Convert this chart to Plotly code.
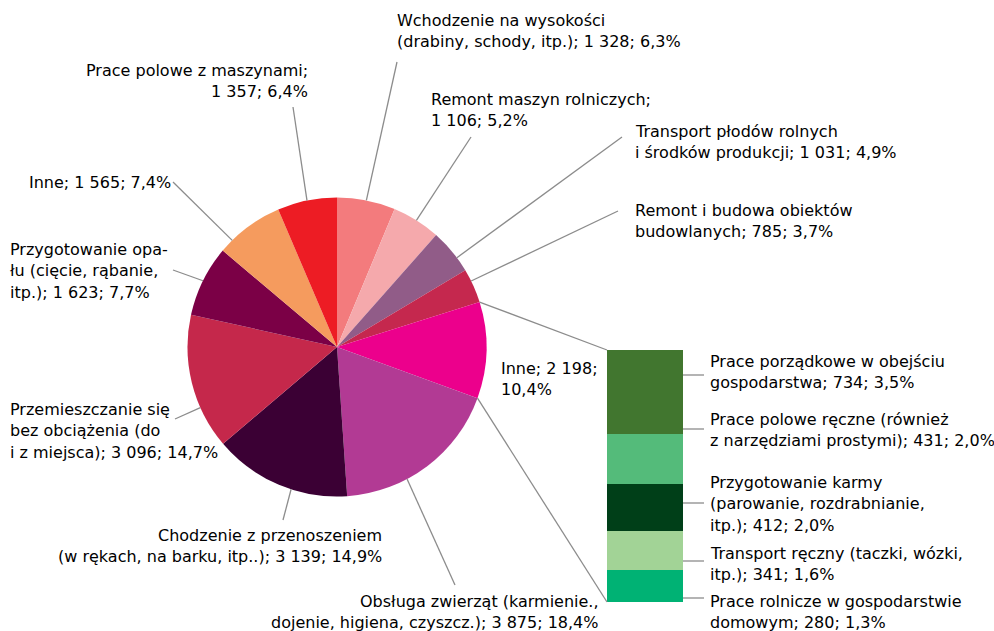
import math
import plotly.graph_objects as go

# --- data -------------------------------------------------------------
pie_labels = [
    "Wchodzenie na wysokości (drabiny, schody, itp.)",
    "Remont maszyn rolniczych",
    "Transport płodów rolnych i środków produkcji",
    "Remont i budowa obiektów budowlanych",
    "Inne",
    "Obsługa zwierząt (karmienie., dojenie, higiena, czyszcz.)",
    "Chodzenie z przenoszeniem (w rękach, na barku, itp..)",
    "Przemieszczanie się bez obciążenia (do i z miejsca)",
    "Przygotowanie opału (cięcie, rąbanie, itp.)",
    "Inne",
    "Prace polowe z maszynami",
]
pie_values = [1328, 1106, 1031, 785, 2198, 3875, 3139, 3096, 1623, 1565, 1357]
pie_pct = ["6,3%", "5,2%", "4,9%", "3,7%", "10,4%", "18,4%", "14,9%", "14,7%", "7,7%", "7,4%", "6,4%"]
pie_text = [
    ["Wchodzenie na wysokości", "(drabiny, schody, itp.); 1 328; 6,3%"],
    ["Remont maszyn rolniczych;", "1 106; 5,2%"],
    ["Transport płodów rolnych", "i środków produkcji; 1 031; 4,9%"],
    ["Remont i budowa obiektów", "budowlanych; 785; 3,7%"],
    ["Inne; 2 198;", "10,4%"],
    ["Obsługa zwierząt (karmienie.,", "dojenie, higiena, czyszcz.); 3 875; 18,4%"],
    ["Chodzenie z przenoszeniem", "(w rękach, na barku, itp..); 3 139; 14,9%"],
    ["Przemieszczanie się", "bez obciążenia (do", "i z miejsca); 3 096; 14,7%"],
    ["Przygotowanie opa-", "łu (cięcie, rąbanie,", "itp.); 1 623; 7,7%"],
    ["Inne; 1 565; 7,4%"],
    ["Prace polowe z maszynami;", "1 357; 6,4%"],
]

bar_values = [734, 431, 412, 341, 280]
bar_text = [
    ["Prace porządkowe w obejściu", "gospodarstwa; 734; 3,5%"],
    ["Prace polowe ręczne (również", "z narzędziami prostymi); 431; 2,0%"],
    ["Przygotowanie karmy", "(parowanie, rozdrabnianie,", "itp.); 412; 2,0%"],
    ["Transport ręczny (taczki, wózki,", "itp.); 341; 1,6%"],
    ["Prace rolnicze w gospodarstwie", "domowym; 280; 1,3%"],
]

# --- style ------------------------------------------------------------
PIE_COLORS = ['#F37B7D', '#F5A9AC', '#915C88', '#C5284E', '#EC008C', '#B23A94',
              '#3B0034', '#C5284B', '#7B0046', '#F59B5E', '#ED1C24']
BAR_COLORS = ['#41762F', '#54BB7A', '#003F18', '#A2D396', '#00B274']
LINE_COLOR = '#8C8C8C'
FONT = dict(family="DejaVu Sans", size=16, color='black')
W, H = 994, 631
CX, CY, R = 337, 347, 149.5
BAR_X0, BAR_X1, BAR_Y0, BAR_Y1 = 607, 683, 350, 602
LINE_H = 21.5

# label placement: (anchor x, first line y, xanchor, leader end or None, angle offset)
PIE_LABEL_POS = [
    (395, 20, 'left', (397, 62), 0),
    (429, 99, 'left', (471, 137), 0),
    (633, 131, 'left', (622, 137), 3),
    (633, 210, 'left', (618, 211), -2),
    (499, 368, 'left', None, 0),
    (601, 601, 'right', (455, 585), 9),
    (384, 535, 'right', (283, 520), -5),
    (8, 409, 'left', (175, 419), -10),
    (8, 249, 'left', (173, 270), 0),
    (27, 182, 'left', (173, 182), -8),
    (310, 70, 'right', (293, 107), 0),
]
BAR_LABEL_POS = [(708, 361, 375), (708, 419, 429), (708, 482, 503), (708, 553, 561), (708, 601, 598)]

fig = go.Figure()

# pie
fig.add_trace(go.Pie(
    labels=[f"{i}" for i in range(len(pie_values))],
    values=pie_values,
    sort=False,
    direction='clockwise',
    rotation=0,
    marker=dict(colors=PIE_COLORS, line=dict(width=0)),
    textinfo='none',
    hoverinfo='skip',
    showlegend=False,
    domain=dict(x=[(CX - R) / W, (CX + R) / W], y=[1 - (CY + R) / H, 1 - (CY - R) / H]),
))

# stacked bar (bottom segment first)
for val, col in zip(bar_values[::-1], BAR_COLORS[::-1]):
    fig.add_trace(go.Bar(
        x=[0], y=[val], width=1, marker=dict(color=col, line=dict(width=0)),
        xaxis='x2', yaxis='y2', showlegend=False, hoverinfo='skip',
    ))

total = sum(pie_values)


def edge_point(angle_deg, r=R):
    a = math.radians(angle_deg)
    return CX + r * math.sin(a), CY - r * math.cos(a)


shapes = []
annotations = []


def add_line(x0, y0, x1, y1):
    shapes.append(dict(type='line', xref='x', yref='y', x0=x0, y0=y0, x1=x1, y1=y1,
                       line=dict(color=LINE_COLOR, width=1.3)))


def add_text(lines, x, y, xanchor):
    for i, t in enumerate(lines):
        annotations.append(dict(x=x, y=y + i * LINE_H, xref='x', yref='y', text=t,
                                showarrow=False, xanchor=xanchor, yanchor='middle',
                                font=FONT))


cum = 0
for i, v in enumerate(pie_values):
    start = cum / total * 360
    cum += v
    end = cum / total * 360
    x, y, anchor, lead, off = PIE_LABEL_POS[i]
    add_text(pie_text[i], x, y, anchor)
    if lead is not None:
        sx, sy = edge_point((start + end) / 2 + off)
        add_line(sx, sy, lead[0], lead[1])
    if i == 4:
        # connectors to the breakdown bar
        ax, ay = edge_point(start)
        bx, by = edge_point(end)
        add_line(ax, ay, BAR_X0, BAR_Y0)
        add_line(bx, by, BAR_X0, BAR_Y1)

for lines, (x, y, ly) in zip(bar_text, BAR_LABEL_POS):
    add_text(lines, x, y, 'left')
    add_line(BAR_X1, ly, x - 4, ly)

fig.update_layout(
    width=W, height=H,
    margin=dict(l=0, r=0, t=0, b=0),
    paper_bgcolor='white', plot_bgcolor='rgba(0,0,0,0)',
    barmode='stack', bargap=0,
    xaxis=dict(range=[0, W], domain=[0, 1], visible=False, fixedrange=True),
    yaxis=dict(range=[H, 0], domain=[0, 1], visible=False, fixedrange=True),
    xaxis2=dict(range=[-0.5, 0.5], domain=[BAR_X0 / W, BAR_X1 / W], visible=False, anchor='y2'),
    yaxis2=dict(range=[0, sum(bar_values)], domain=[1 - BAR_Y1 / H, 1 - BAR_Y0 / H],
                visible=False, anchor='x2'),
    shapes=shapes,
    annotations=annotations,
)

# drop the default page margin so the figure sits at the window's corner
fig.write_html("out.html", config={'displayModeBar': False},
               post_script="document.body.style.margin='0';")
